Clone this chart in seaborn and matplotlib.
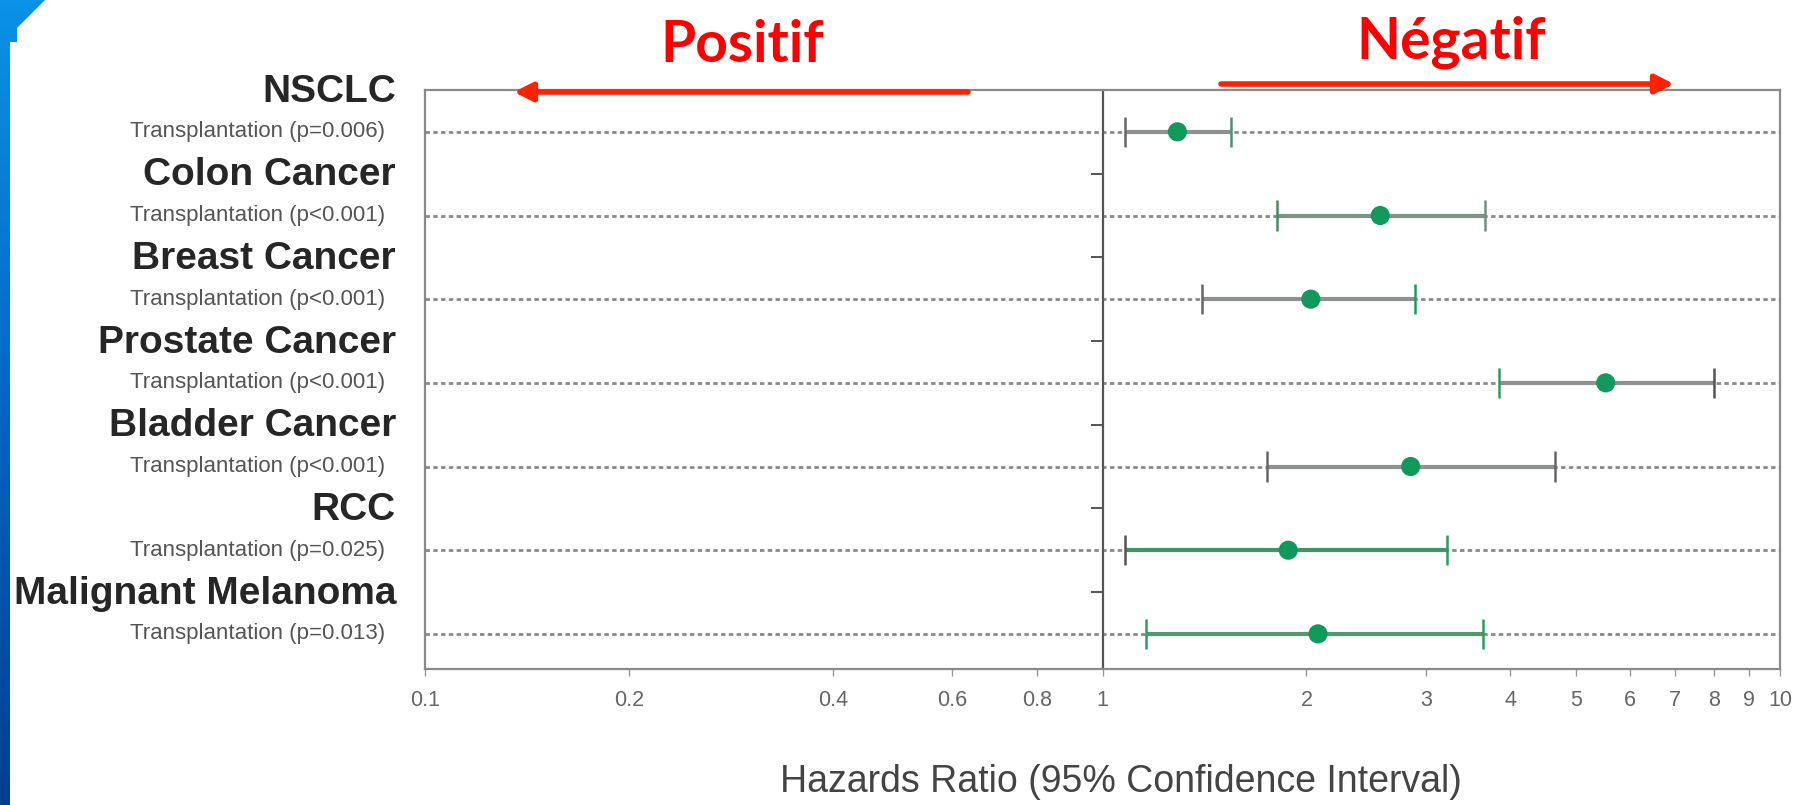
import numpy as np
import pandas as pd
import matplotlib
matplotlib.use("Agg")
import matplotlib.pyplot as plt
import matplotlib.transforms as mtransforms
from matplotlib.patches import Polygon, FancyArrowPatch
from matplotlib.colors import LinearSegmentedColormap
import seaborn as sns

# ---------------- data ----------------
cancers = ["NSCLC", "Colon Cancer", "Breast Cancer", "Prostate Cancer",
           "Bladder Cancer", "RCC", "Malignant Melanoma"]
sub_labels = ["Transplantation (p=0.006)", "Transplantation (p<0.001)",
              "Transplantation (p<0.001)", "Transplantation (p<0.001)",
              "Transplantation (p<0.001)", "Transplantation (p=0.025)",
              "Transplantation (p=0.013)"]
hr = [1.29, 2.57, 2.03, 5.53, 2.85, 1.88, 2.08]
ci_low = [1.08, 1.81, 1.40, 3.85, 1.75, 1.08, 1.16]
ci_high = [1.55, 3.67, 2.89, 8.0, 4.65, 3.23, 3.64]
xticks = [0.1, 0.2, 0.4, 0.6, 0.8, 1, 2, 3, 4, 5, 6, 7, 8, 9, 10]
xtick_labels = ["0.1", "0.2", "0.4", "0.6", "0.8", "1", "2", "3", "4",
                "5", "6", "7", "8", "9", "10"]
header_left = "Positif"
header_right = "Négatif"
x_label = "Hazards Ratio (95% Confidence Interval)"

# ---------------- style ----------------
ci_colors = ["#8d918f", "#7f9488", "#8d918f", "#8d918f", "#8d918f", "#3f9468", "#4f9a70"]
cap_lo_colors = ["#666666", "#3c8f62", "#666666", "#2f9a62", "#666666", "#555555", "#2f9a62"]
cap_hi_colors = ["#4f8f72", "#6f8f80", "#1f9a5c", "#555555", "#666666", "#2f9a62", "#2f9a62"]
point_color = "#11995b"

sns.set_theme(style="white")
plt.rcParams["font.family"] = ["Liberation Sans", "DejaVu Sans"]

W, H = 1803, 805
fig = plt.figure(figsize=(W / 100, H / 100), dpi=100)
fig.patch.set_facecolor("white")

# left blue decorative band
band = fig.add_axes([0, 0, 50 / W, 1])
band.set_xlim(0, 50)
band.set_ylim(H, 0)
band.axis("off")
cmap = LinearSegmentedColormap.from_list("b", ["#0a92e8", "#0466c4", "#003f8f"])
grad = np.linspace(0, 1, 256).reshape(-1, 1)
im = band.imshow(grad, cmap=cmap, extent=[0, 50, H, 0], aspect="auto")
poly = Polygon([(0, 0), (45, 0), (17, 28), (17, 42), (10, 42), (10, H), (0, H)],
               closed=True, transform=band.transData, facecolor="none", edgecolor="none")
band.add_patch(poly)
im.set_clip_path(poly)

# main axes
top_px, bot_px, left_px, right_px = 90, 669, 425, 1780
ax = fig.add_axes([left_px / W, 1 - bot_px / H, (right_px - left_px) / W, (bot_px - top_px) / H])
df = pd.DataFrame({"cancer": cancers, "sub": sub_labels, "hr": hr,
                   "lo": ci_low, "hi": ci_high, "row": np.arange(len(cancers))})

ax.set_xscale("log")
ax.set_xlim(0.1, 10)
ax.set_ylim(6.42, -0.5)

for r in df["row"]:
    ax.axhline(r, color="#8a8a8a", lw=2.0, ls=(0, (1.6, 1.2)), zorder=1)

ax.axvline(1, color="#555555", lw=1.6, zorder=2)
mids = df["row"].values[:-1] + 0.5
ax.plot(np.ones(len(mids)), mids, ls="none", marker=0, markersize=9,
        markeredgewidth=1.4, color="#555555", zorder=2)

ax.hlines(df["row"], df["lo"], df["hi"], colors=ci_colors, lw=3.0, zorder=3)
ax.vlines(df["lo"], df["row"] - 0.18, df["row"] + 0.18, colors=cap_lo_colors, lw=1.8, zorder=4)
ax.vlines(df["hi"], df["row"] - 0.18, df["row"] + 0.18, colors=cap_hi_colors, lw=1.8, zorder=4)

sns.scatterplot(data=df, x="hr", y="row", color=point_color, s=190,
                edgecolor="none", zorder=5, ax=ax, legend=False)

ax.set_xticks(xticks)
ax.set_xticklabels(xtick_labels)
ax.xaxis.set_minor_locator(matplotlib.ticker.NullLocator())
ax.set_yticks([])
ax.set_xlabel("")
ax.set_ylabel("")
ax.tick_params(axis="x", direction="out", length=5, width=1, color="#999999",
               labelsize=15.5, labelcolor="#666666", pad=10, bottom=True)
for sp in ax.spines.values():
    sp.set_color("#8a8a8a")
    sp.set_linewidth(1.6)
    sp.set_visible(True)

# row labels
trans = mtransforms.blended_transform_factory(fig.transFigure, ax.transData)
for _, row in df.iterrows():
    fig.text(396 / W, row["row"] - 0.48, row["cancer"], transform=trans,
             ha="right", va="center", fontsize=28, fontweight="bold", color="#262626")
    fig.text(385 / W, row["row"], row["sub"], transform=trans,
             ha="right", va="center", fontsize=16, color="#555555")

# x label
fig.text(1121 / W, 1 - 782 / H, x_label, ha="center", va="center",
         fontsize=27, color="#444444")

# headers
fig.text(742 / W, 1 - 46 / H, header_left, ha="center", va="center", fontsize=41,
         fontweight="bold", color="#ff0000", family=["Lato", "DejaVu Sans"])
fig.text(1451 / W, 1 - 42 / H, header_right, ha="center", va="center", fontsize=41,
         fontweight="bold", color="#ff0000", family=["Lato", "DejaVu Sans"])

for (x0, x1, y) in [(968, 514, 92), (1221, 1674, 84)]:
    arr = FancyArrowPatch((x0, H - y), (x1, H - y), transform=None,
                          arrowstyle="-|>,head_length=0.55,head_width=0.28",
                          mutation_scale=20, lw=4.0, color="#ff2200",
                          shrinkA=0, shrinkB=0)
    fig.add_artist(arr)

fig.savefig("out.png", dpi=100, facecolor="white")
